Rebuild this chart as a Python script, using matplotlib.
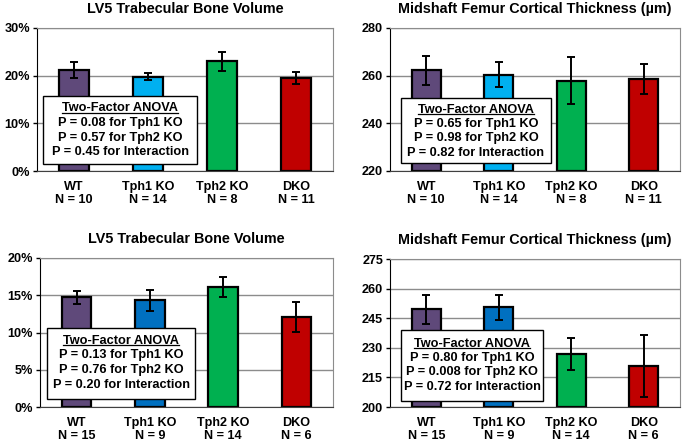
import numpy as np
import matplotlib.pyplot as plt
from matplotlib.patches import Rectangle
from matplotlib.ticker import FuncFormatter

plt.rcParams['font.family'] = ['Liberation Sans', 'DejaVu Sans']
plt.rcParams['font.weight'] = 'bold'

groups = ['WT', 'Tph1 KO', 'Tph2 KO', 'DKO']

# top row
n_top = [10, 14, 8, 11]
bv_top = [21.2, 19.8, 23.0, 19.5]
bv_top_err = [1.6, 0.7, 1.95, 1.25]
ct_top = [262.2, 260.4, 257.9, 258.8]
ct_top_err = [6.2, 5.3, 9.8, 6.3]

# bottom row
n_bot = [15, 9, 14, 6]
bv_bot = [14.7, 14.3, 16.1, 12.05]
bv_bot_err = [0.9, 1.4, 1.4, 2.0]
ct_bot = [249.6, 250.6, 226.7, 220.8]
ct_bot_err = [7.4, 6.4, 8.1, 15.8]

p_top_bv = ['0.08', '0.57', '0.45']
p_top_ct = ['0.65', '0.98', '0.82']
p_bot_bv = ['0.13', '0.76', '0.20']
p_bot_ct = ['0.80', '0.008', '0.72']

colors_top = ['#5F497A', '#00B0F0', '#00B050', '#C00000']
colors_bot = ['#5F497A', '#0070C0', '#00B050', '#C00000']

W, H = 697, 444
fig = plt.figure(figsize=(W / 100, H / 100), dpi=100)


def px_axes(l, t, r, b):
    return fig.add_axes([l / W, (H - b) / H, (r - l) / W, (b - t) / H])


def panel(ax, vals, errs, ns, cols, title, ylim, yticks, pct, pvals, box, lines_y):
    x = np.arange(len(vals))
    ax.set_axisbelow(True)
    ax.grid(axis='y', color='#8c8c8c', lw=1.0)
    ax.bar(x, np.array(vals) - ylim[0], bottom=ylim[0], width=0.4, color=cols,
           edgecolor='black', lw=1.6, zorder=2)
    ax.errorbar(x, vals, yerr=errs, fmt='none', ecolor='black', elinewidth=1.4,
                capsize=2.6, capthick=1.4, zorder=3)
    ax.set_xlim(-0.5, len(vals) - 0.5)
    ax.set_ylim(*ylim)
    ax.set_yticks(yticks)
    if pct:
        ax.yaxis.set_major_formatter(FuncFormatter(lambda v, p: '%d%%' % v))
    ax.set_xticks(x)
    ax.set_xticklabels(['%s\nN = %d' % (g, n) for g, n in zip(groups, ns)],
                       fontsize=9.1, fontweight='bold', linespacing=1.1)
    ax.tick_params(axis='x', length=0, pad=7)
    ax.tick_params(axis='y', length=3, width=1, labelsize=9.1, pad=2)
    for lab in ax.get_yticklabels():
        lab.set_fontweight('bold')
    for s in ['top', 'right']:
        ax.spines[s].set_color('#8c8c8c')
    ax.spines['left'].set_color('black')
    ax.spines['bottom'].set_color('#404040')
    ax.set_title(title, fontsize=10.4, fontweight='bold', pad=10.5)

    # ANOVA box
    bl, br, bb, bt = box
    ax.add_patch(Rectangle((bl, bb), br - bl, bt - bb, transform=ax.transAxes,
                           facecolor='white', edgecolor='black', lw=1.0, zorder=4))
    cx = (bl + br) / 2
    texts = ['Two-Factor ANOVA', 'P = %s for Tph1 KO' % pvals[0],
             'P = %s for Tph2 KO' % pvals[1], 'P = %s for Interaction' % pvals[2]]
    head = None
    for t, yy in zip(texts, lines_y):
        tx = ax.text(cx, yy, t, transform=ax.transAxes, ha='center', va='center',
                     fontsize=9.2, fontweight='bold', zorder=5)
        if head is None:
            head = tx
    return head


ax1 = px_axes(37, 28, 333, 171)
ax2 = px_axes(390, 28, 680, 171)
ax3 = px_axes(40, 258, 333, 407)
ax4 = px_axes(390, 259, 680, 407)

heads = []
heads.append(panel(ax1, bv_top, bv_top_err, n_top, colors_top, 'LV5 Trabecular Bone Volume',
                   (0, 30), [0, 10, 20, 30], True, p_top_bv,
                   (0.020, 0.541, 0.049, 0.524), [0.44, 0.336, 0.231, 0.13]))
heads.append(panel(ax2, ct_top, ct_top_err, n_top, colors_top,
                   'Midshaft Femur Cortical Thickness (\u00b5m)',
                   (220, 280), [220, 240, 260, 280], False, p_top_ct,
                   (0.038, 0.555, 0.056, 0.51), [0.427, 0.329, 0.231, 0.126]))
heads.append(panel(ax3, bv_bot, bv_bot_err, n_bot, colors_bot, 'LV5 Trabecular Bone Volume',
                   (0, 20), [0, 5, 10, 15, 20], True, p_bot_bv,
                   (0.024, 0.529, 0.054, 0.530), [0.443, 0.349, 0.248, 0.148]))
heads.append(panel(ax4, ct_bot, ct_bot_err, n_bot, colors_bot,
                   'Midshaft Femur Cortical Thickness (\u00b5m)',
                   (200, 275), [200, 215, 230, 245, 260, 275], False, p_bot_ct,
                   (0.038, 0.528, 0.041, 0.520), [0.426, 0.331, 0.236, 0.135]))

# underline the box headings
fig.canvas.draw()
r = fig.canvas.get_renderer()
for h in heads:
    bb = h.get_window_extent(r)
    inv = fig.transFigure.inverted()
    (x0, y0), (x1, y1) = inv.transform([(bb.x0, bb.y0 + 1.5), (bb.x1, bb.y0 + 1.5)])
    fig.add_artist(plt.Line2D([x0, x1], [y0, y1], color='black', lw=0.9,
                              transform=fig.transFigure, zorder=6))

fig.savefig('out.png', dpi=100)
